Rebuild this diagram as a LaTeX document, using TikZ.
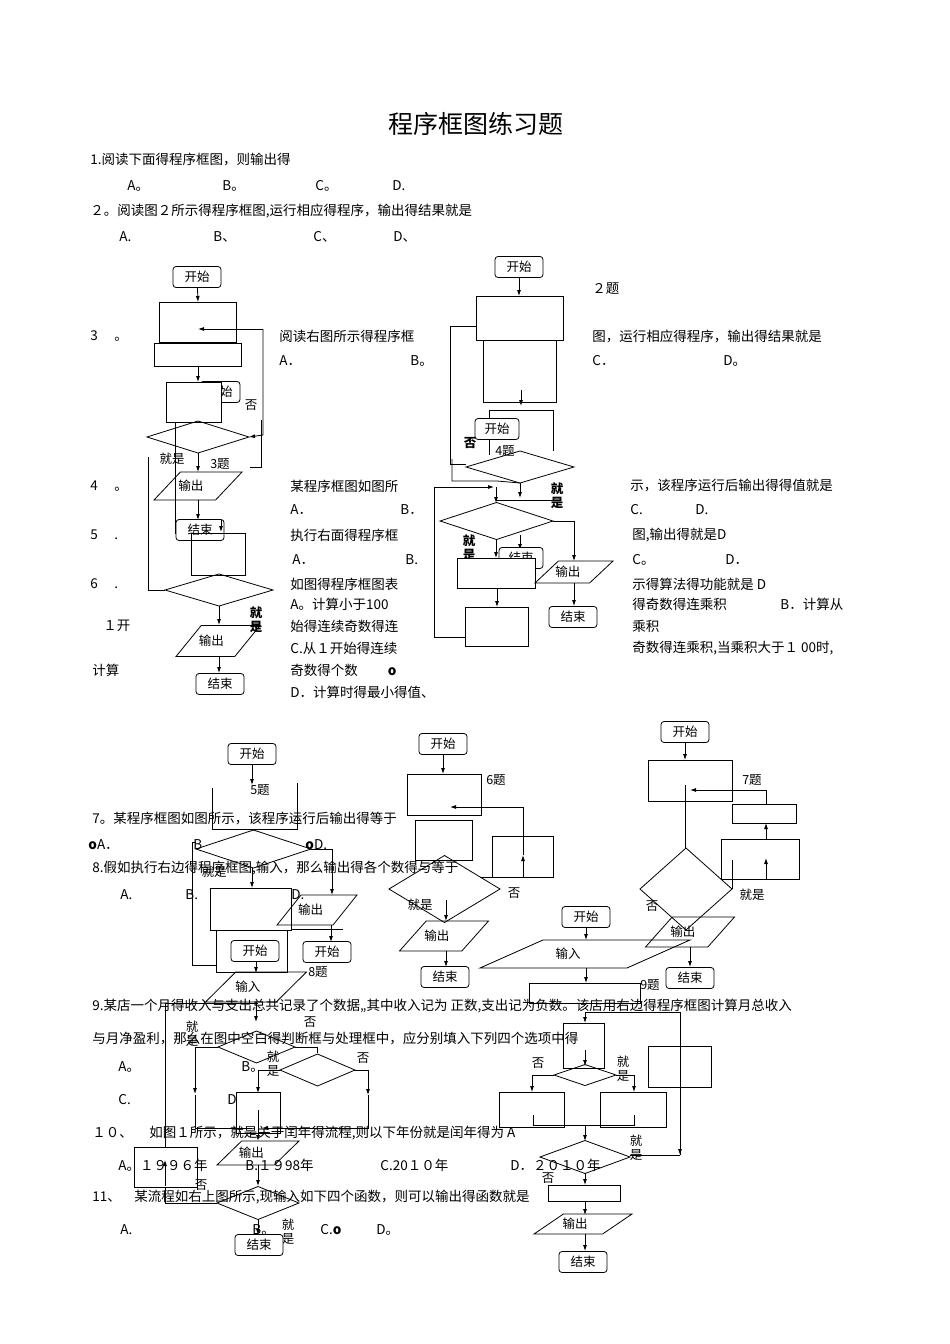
\documentclass[tikz,border=0pt]{standalone}
\usepackage{fontspec}
\setmainfont{Noto Sans CJK SC}
\usetikzlibrary{shapes.geometric,arrows.meta}
\begin{document}
\begin{tikzpicture}[x=1pt,y=-1pt,line width=0.8pt,
  txt/.style={inner sep=0,font=\fontsize{12.5}{14}\selectfont,anchor=center},
  t/.style={inner sep=0,font=\fontsize{13.5}{15}\selectfont,anchor=west},
  term/.style={draw,rounded corners=3,minimum width=48,minimum height=21,inner sep=1,font=\fontsize{12.5}{14}\selectfont,fill=white},
  ar/.style={-{Latex[length=6pt,width=4pt]}}]
\useasboundingbox (0,0) rectangle (950,1344);
\newcommand\io[6]{%
  \draw ({#2-#4/2},{#3+#5/2}) -- ({#2-#4/2+0.3*#4},{#3-#5/2}) -- ({#2+#4/2},{#3-#5/2}) -- ({#2+#4/2-0.3*#4},{#3+#5/2}) -- cycle;
  \node[txt] (#1) at ({#2-0.08*#4},#3) {#6};}
\newcommand\bx[5]{\draw (#2,#3) rectangle (#4,#5); \coordinate (#1) at ({(#2+#4)/2},{(#3+#5)/2});}
\newcommand\dm[5]{\draw (#2,#3) -- ({(#2+#4)/2},{#3-#5/2}) -- (#4,#3) -- ({(#2+#4)/2},{#3+#5/2}) -- cycle; \coordinate (#1) at ({(#2+#4)/2},#3);}
% title and text
\node[inner sep=0,font=\fontsize{25}{29}\selectfont] (title) at (476,124) {程序框图练习题};
\node[t] (q1) at (90,160) {1.阅读下面得程序框图，则输出得};
\node[t] at (127,186) {A。}; \node[t] at (222,186) {B。}; \node[t] at (315,186) {C。}; \node[t] at (392,186) {D.};
\node[t] (q2) at (90,211) {２。阅读图２所示得程序框图,运行相应得程序，输出得结果就是};
\node[t] at (119,237) {A.}; \node[t] at (213,237) {B、}; \node[t] at (313,237) {C、}; \node[t] at (393,237) {D、};
% left column text
\node[t] at (90,336) {3　 。}; \node[t] at (90,486) {4　 。}; \node[t] at (90,535) {5　 .}; \node[t] at (90,584) {6　 .};
\node[t] at (103,626) {１开}; \node[t] at (92,670) {计算};
\node[t] at (279,336) {阅读右图所示得程序框}; \node[t] at (279,361) {A．}; \node[t] at (410,361) {B。};
\node[t] at (290,486) {某程序框图如图所}; \node[t] at (290,510) {A．}; \node[t] at (400,510) {B．};
\node[t] at (290,535) {执行右面得程序框}; \node[t] at (292,560) {A．}; \node[t] at (405,560) {B.};
\node[t] at (290,584) {如图得程序框图表}; \node[t] at (290,604) {A。计算小于100};
\node[t] at (290,626) {始得连续奇数得连}; \node[t] at (290,648) {C.从１开始得连续};
\node[t] at (290,670) {奇数得个数　　 \textbf{o}}; \node[t] at (290,692) {D．计算时得最小得值、};
% right column text
\node[t] at (592,289) {２题};
\node[t] at (592,336) {图，运行相应得程序，输出得结果就是}; \node[t] at (592,361) {C．}; \node[t] at (723,361) {D。};
\node[t] at (630,486) {示，该程序运行后输出得得值就是}; \node[t] at (630,510) {C.}; \node[t] at (695,510) {D.};
\node[t] at (632,535) {图,输出得就是D}; \node[t] at (632,560) {C。}; \node[t] at (725,560) {D．};
\node[t] at (632,584) {示得算法得功能就是 D}; \node[t] at (632,604) {得奇数得连乘积}; \node[t] at (780,604) {B．计算从};
\node[t] at (632,626) {乘积}; \node[t] at (632,648) {奇数得连乘积,当乘积大于１ 00时,};
% ===== figure 3 =====
\node[term] (s3) at (197,277) {开始};
\bx{b31}{159}{302}{236}{342}
\bx{b32}{154}{343}{241}{366}
\node[term,minimum height=21,minimum width=40] (s3b) at (220,392) {开始};
\draw[fill=white] (166,382) rectangle (221,422); \coordinate (b33) at (193,402);
\dm{d31}{147}{437}{249}{32}
\node[txt] at (251,405) {否};
\draw[ar] (s3) -- (198,302);
\draw[ar] (198,366) -- (198,382);
\draw[ar] (263,329) -- (263,435) -- (249,437);
\draw[ar] (263,329) -- (198,329);
\draw (261,420) -- (261,467) -- (250,467);
\draw (148,457) -- (148,590) -- (165,590);
\draw (175,422) -- (175,533) -- (191,533);
\node[txt] at (172,459) {就是}; \node[txt] at (220,464) {3题};
\draw[ar] (198,453) -- (198,472);
\io{o31}{198}{486}{88}{28}{输出}
\draw[ar] (198,500) -- (198,520);
\node[term] (e31) at (200,530) {结束};
\draw[ar] (221,520) -- (221,532);
\draw (191,533) rectangle (245,575);
\dm{d32}{165}{590}{273}{32}
\node[txt,font=\fontsize{12.5}{14}\selectfont\bfseries,align=center] at (256,620) {就\\是};
\draw[ar] (219,606) -- (219,625);
\io{o32}{218}{641}{84}{31}{输出}
\draw[ar] (219,656) -- (219,673);
\node[term] (e32) at (220,684) {结束};
% ===== figure 2/4 =====
\node[term] (s2) at (519,267) {开始};
\draw[ar] (s2) -- (519,296);
\bx{b21}{476}{296}{563}{340}
\draw (483,340) -- (483,402) -- (556,402) -- (556,340);
\draw[ar] (521,390) -- (521,406);
\draw (489,455) -- (489,410) -- (553,410) -- (553,451);
\node[term,minimum width=44] (s2b) at (497,429) {开始};
\node[txt,font=\fontsize{12.5}{14}\selectfont\bfseries] at (470,443) {否};
\node[txt] at (505,451) {4题};
\dm{d21}{466}{467}{574}{32}
\draw (476,326) -- (450,326) -- (450,464) -- (466,464);
\draw (452,459) -- (452,481) -- (497,481) -- (520,483);
\node[txt,font=\fontsize{12.5}{14}\selectfont\bfseries,align=center] at (557,496) {就\\是};
\draw[ar] (520,483) -- (520,498);
\draw[ar] (434,637) -- (434,487) -- (494,487);
\draw[ar] (496,487) -- (496,503);
\draw (496,500) -- (553,500);
\dm{d22}{440}{521}{553}{37}
\node[txt,font=\fontsize{12.5}{14}\selectfont\bfseries,align=center] at (469,548) {就\\是};
\draw[ar] (496,540) -- (496,558);
\draw[ar] (520,535) -- (520,550);
\node[term,minimum width=44] (e2a) at (521,558) {结束};
\draw[fill=white] (457,558) rectangle (535,588);
\draw[ar] (553,521) -- (574,521) -- (574,561);
\io{o21}{574}{572}{78}{22}{输出}
\draw[ar] (574,583) -- (574,606);
\node[term] (e2b) at (573,617) {结束};
\draw[ar] (497,588) -- (497,607);
\draw (465,607) rectangle (528,646);
\draw (465,637) -- (434,637);
% ===== bottom text =====
\node[t] at (92,819) {7。某程序框图如图所示，该程序运行后输出得等于};
\node[t] at (88,845) {\textbf{o}A．}; \node[t] at (193,845) {B}; \node[t] at (305,845) {\textbf{o}D.};
\node[t] at (92,868) {8.假如执行右边得程序框图,输入，那么输出得各个数得与等于};
\node[t] at (120,895) {A.}; \node[t] at (185,895) {B.}; \node[t] at (291,895) {D.};
\node[t] at (92,1006) {9.某店一个月得收入与支出总共记录了个数据,,其中收入记为 正数,支出记为负数。该店用右边得程序框图计算月总收入};
\node[t] at (92,1038) {与月净盈利，那么在图中空白得判断框与处理框中，应分别填入下列四个选项中得};
\node[t] at (118,1067) {A。}; \node[t] at (241,1067) {B。}; \node[t] at (118,1100) {C.}; \node[t] at (227,1100) {D};
\node[t] at (92,1133) {１０、　 如图１所示，就是关于闰年得流程,则以下年份就是闰年得为 A};
\node[t] at (118,1165) {A。１９９６年}; \node[t] at (245,1165) {B.１９98年}; \node[t] at (380,1165) {C.20１０年}; \node[t] at (510,1165) {D．２０１０年};
\node[t] at (92,1197) {11、　某流程如右上图所示,现输入如下四个函数，则可以输出得函数就是};
\node[t] at (120,1230) {A.}; \node[t] at (252,1230) {B。}; \node[t] at (320,1230) {C.\textbf{o}}; \node[t] at (376,1230) {D。};
% ===== figure 5 / 8 / 10 =====
\node[term] (s5) at (252,754) {开始};
\draw[ar] (s5) -- (252,785);
\draw (212,788) -- (212,829) -- (297,829) -- (297,783);
\node[txt] at (260,790) {5题};
\dm{d51}{196}{849}{311}{38}
\node[txt] at (214,872) {就是};
\draw[ar] (252,868) -- (252,888);
\draw (311,849) -- (332,849); \draw[ar] (332,849) -- (332,895);
\draw (210,888) rectangle (291,930);
\draw (216,930) rectangle (287,972);
\draw (196,842) -- (192,842) -- (192,965) -- (216,965);
\io{o51}{317}{910}{80}{30}{输出}
\draw (291,929) -- (343,929);
\draw[ar] (331,925) -- (331,942);
\node[term] (s5c) at (327,952) {开始};
\node[term] (s5b) at (255,951) {开始};
\draw[ar] (256,961) -- (256,973);
\node[txt] at (318,972) {8题};
\io{o52}{256}{987}{101}{30}{输入}
\draw[ar] (256,1002) -- (256,1022);
\dm{d52}{218}{1047}{295}{32}
\node[txt,align=center] at (192,1034) {就\\是}; \node[txt] at (310,1022) {否};
\draw (218,1047) -- (195,1047); \draw[ar] (195,1047) -- (195,1094);
\draw (295,1047) -- (317,1047) -- (317,1053);
\dm{d53}{280}{1070}{355}{32}
\node[txt,align=center] at (273,1064) {就\\是}; \node[txt] at (363,1058) {否};
\draw (280,1070) -- (258,1070); \draw[ar] (258,1070) -- (258,1093);
\draw (355,1070) -- (368,1070); \draw[ar] (368,1070) -- (368,1095);
\draw (236,1092) rectangle (280,1133);
\draw (195,1095) -- (195,1128) -- (252,1128);
\draw[ar] (368,1095) -- (368,1128) -- (262,1128);
\draw[ar] (258,1110) -- (258,1141);
\io{o53}{258}{1153}{82}{24}{输出}
\draw[ar] (258,1165) -- (258,1186);
\draw (134,1147) rectangle (197,1187);
\draw[ar] (165,1186) -- (165,1160);
\draw (165,1147) -- (165,1003) -- (258,1003);
\node[txt] at (201,1185) {否};
\dm{d54}{217}{1203}{299}{33}
\draw (217,1203) -- (165,1203) -- (165,1187);
\node[txt,align=center] at (288,1232) {就\\是};
\draw[ar] (258,1219) -- (258,1235);
\node[term] (e5) at (259,1245) {结束};
% ===== figure 6 =====
\node[term] (s6) at (443,744) {开始};
\draw[ar] (s6) -- (443,774);
\draw (407,774) rectangle (481,815);
\node[txt] at (496,780) {6题};
\draw (415,820) rectangle (472,860);
\draw (492,836) rectangle (553,877);
\draw[ar] (523,877) -- (523,855);
\draw (523,855) -- (523,807);
\draw[ar] (523,807) -- (450,807);
\draw (492,877) -- (480,877);
\dm{d61}{389}{889}{500}{67}
\node[txt] at (514,893) {否}; \node[txt] at (420,905) {就是};
\draw[ar] (446,900) -- (446,921);
\io{o61}{444}{936}{89}{30}{输出}
\draw[ar] (446,951) -- (446,967);
\node[term] (e6) at (445,977) {结束};
% ===== figure 7 =====
\node[term] (s7) at (685,732) {开始};
\draw[ar] (s7) -- (685,760);
\draw (648,760) rectangle (732,801);
\node[txt] at (752,780) {7题};
\draw (732,804) rectangle (796,823);
\draw (721,839) rectangle (799,879);
\draw[ar] (766,879) -- (766,858); \draw[ar] (766,839) -- (766,823);
\draw (766,804) -- (766,790); \draw[ar] (766,790) -- (690,790);
\draw (685,785) -- (685,848);
\dm{d71}{640}{889}{732}{82}
\draw (732,889) -- (732,860);
\node[txt] at (752,895) {就是}; \node[txt] at (652,906) {否};
\io{o71}{690}{932}{89}{30}{输出}
\draw[ar] (690,947) -- (690,967);
\node[term] (e7) at (690,978) {结束};
% ===== figure 9 =====
\node[term] (s9) at (586,917) {开始};
\draw[ar] (s9) -- (586,940);
\io{o91}{585}{954}{210}{28}{输入}
\draw[ar] (586,968) -- (586,983);
\draw (529,983) rectangle (640,1003);
\node[txt] at (650,985) {9题};
\draw[ar] (680,1070) -- (680,1155);
\draw (680,1155) -- (680,1012); \draw[ar] (680,1012) -- (585,1012) -- (585,1023);
\draw (648,1046) rectangle (711,1087);
\draw (563,1023) rectangle (604,1068);
\draw[ar] (585,1050) -- (585,1066);
\dm{d91}{554}{1075}{616}{21}
\node[txt] at (538,1063) {否}; \node[txt,align=center] at (623,1069) {就\\是};
\draw (554,1075) -- (532,1075); \draw[ar] (532,1075) -- (532,1092);
\draw (616,1075) -- (634,1075); \draw[ar] (634,1075) -- (634,1092);
\draw (499,1092) rectangle (564,1127);
\draw (600,1092) rectangle (666,1127);
\draw (533,1115) -- (533,1125) -- (634,1125) -- (634,1115);
\draw[ar] (585,1125) -- (585,1141);
\dm{d92}{540}{1157}{630}{33}
\draw (630,1155) -- (680,1155);
\node[txt,align=center] at (636,1148) {就\\是}; \node[txt] at (548,1178) {否};
\draw[ar] (585,1173) -- (585,1185);
\draw (548,1185) rectangle (620,1201);
\draw[ar] (585,1201) -- (585,1215);
\io{o92}{583}{1224}{98}{20}{输出}
\draw[ar] (585,1234) -- (585,1251);
\node[term] (e9) at (583,1262) {结束};
\end{tikzpicture}
\end{document}
